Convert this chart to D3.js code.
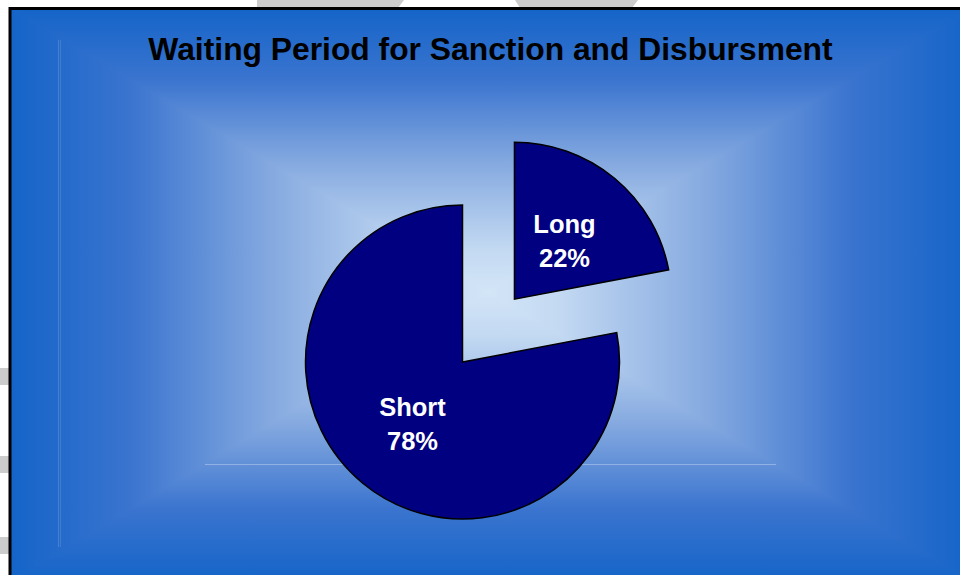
<!DOCTYPE html>
<html>
<head>
<meta charset="utf-8" />
<title>Waiting Period for Sanction and Disbursment</title>
<script src="https://d3js.org/d3.v7.min.js"></script>
<style>
    body { margin: 0px; background: #ffffff; }
    svg { display: block; }
    .label { font-family: "Liberation Sans", Arial, sans-serif; font-weight: bold; }
</style>
</head>
<body>
<script>
    // chart data
    var categories = ["Long", "Short"];
    var values = [22, 78];
    var title = "Waiting Period for Sanction and Disbursment";

    var width = 960, height = 575;

    var svg = d3.select("body").append("svg")
        .attr("width", width)
        .attr("height", height);

    // grey bits of the slide behind the chart
    var grey = svg.append("g").attr("fill", "#cccccc");
    grey.append("path").attr("d", "M257,0 L404,0 L398,8 L257,8 Z");
    grey.append("path").attr("d", "M515,0 L638,0 L632,8 L520,8 Z");
    [368, 456, 537].forEach(function(y) {
        grey.append("rect").attr("x", 0).attr("y", y).attr("width", 10).attr("height", 17);
    });

    // chart box with a rectangular "from center" gradient
    var box = {x0: 10, y0: 8, x1: 972, y1: 582};
    var cx = 488, cy = 292;
    var stops = [
        {o: 0, c: "#1464c8"},
        {o: 0.25, c: "#3a74cf"},
        {o: 0.55, c: "#86aae0"},
        {o: 0.85, c: "#c3d9f2"},
        {o: 1, c: "#d3e5f7"}
    ];
    var defs = svg.append("defs");

    // vertical part: one gradient over the whole box, edge -> centre -> edge
    var fc = (cy - box.y0) / (box.y1 - box.y0);
    var gv = defs.append("linearGradient")
        .attr("id", "gV")
        .attr("gradientUnits", "userSpaceOnUse")
        .attr("x1", 0).attr("y1", box.y0)
        .attr("x2", 0).attr("y2", box.y1);
    stops.forEach(function(s) {
        gv.append("stop").attr("offset", s.o * fc).attr("stop-color", s.c);
    });
    stops.slice().reverse().forEach(function(s) {
        gv.append("stop").attr("offset", fc + (1 - s.o) * (1 - fc)).attr("stop-color", s.c);
    });
    svg.append("rect")
        .attr("x", box.x0).attr("y", box.y0)
        .attr("width", box.x1 - box.x0).attr("height", box.y1 - box.y0)
        .attr("fill", "url(#gV)");

    // left and right triangles on top
    var tris = [
        {id: "gL", pts: [[box.x0, box.y0], [box.x0, box.y1], [cx, cy]], from: [box.x0, cy]},
        {id: "gR", pts: [[box.x1, box.y0], [box.x1, box.y1], [cx, cy]], from: [box.x1, cy]}
    ];
    tris.forEach(function(t) {
        var g = defs.append("linearGradient")
            .attr("id", t.id)
            .attr("gradientUnits", "userSpaceOnUse")
            .attr("x1", t.from[0]).attr("y1", t.from[1])
            .attr("x2", cx).attr("y2", cy);
        stops.forEach(function(s) {
            g.append("stop").attr("offset", s.o).attr("stop-color", s.c);
        });
        svg.append("path")
            .attr("d", "M" + t.pts.map(function(p) { return p.join(","); }).join("L") + "Z")
            .attr("fill", "url(#" + t.id + ")");
    });

    // faint plot-area lines
    svg.append("line").attr("x1", 58.5).attr("x2", 58.5).attr("y1", 40).attr("y2", 547)
        .attr("stroke", "#ffffff").attr("stroke-opacity", 0.15);
    svg.append("line").attr("x1", 60.5).attr("x2", 60.5).attr("y1", 40).attr("y2", 547)
        .attr("stroke", "#ffffff").attr("stroke-opacity", 0.12);
    svg.append("line").attr("x1", 205).attr("x2", 776).attr("y1", 464.5).attr("y2", 464.5)
        .attr("stroke", "#ffffff").attr("stroke-opacity", 0.3);

    // border
    svg.append("path")
        .attr("d", "M10," + height + " L10,8.5 L" + width + ",8.5")
        .attr("fill", "none")
        .attr("stroke", "#000000")
        .attr("stroke-width", 3);

    // title
    svg.append("text")
        .attr("class", "label")
        .attr("x", 490.5)
        .attr("y", 60)
        .attr("text-anchor", "middle")
        .style("font-size", "31.8px")
        .attr("fill", "#000000")
        .text(title);

    // pie
    var data = categories.map(function(c, i) { return {name: c, value: values[i]}; });
    var pie = d3.pie().sort(null).value(function(d) { return d.value; });
    var radius = 157;
    var arc = d3.arc().innerRadius(0).outerRadius(radius);
    var labelArc = d3.arc().innerRadius(radius * 0.5).outerRadius(radius * 0.5);
    var explodeDist = 81.5;
    var total = d3.sum(values);

    var chart = svg.append("g").attr("transform", "translate(462.5,362)");

    var slices = chart.selectAll("g.slice")
        .data(pie(data))
        .enter()
        .append("g")
        .attr("class", "slice")
        .attr("transform", function(d) {
            if (d.data.name !== "Long") return null;
            var a = (d.startAngle + d.endAngle) / 2;
            return "translate(" + (Math.sin(a) * explodeDist) + "," + (-Math.cos(a) * explodeDist) + ")";
        });

    slices.append("path")
        .attr("d", arc)
        .attr("fill", "#000080")
        .attr("stroke", "#000000")
        .attr("stroke-width", 1.5)
        .attr("stroke-linejoin", "miter");

    slices.each(function(d) {
        var c = labelArc.centroid(d);
        var t = d3.select(this).append("text")
            .attr("class", "label")
            .attr("text-anchor", "middle")
            .attr("fill", "#ffffff")
            .style("font-size", "25.5px")
            .attr("transform", "translate(" + c[0] + "," + c[1] + ")");
        t.append("tspan").attr("x", 0).attr("y", -6).text(d.data.name);
        t.append("tspan").attr("x", 0).attr("y", 28)
            .text(Math.round(d.data.value / total * 100) + "%");
    });
</script>
</body>
</html>
